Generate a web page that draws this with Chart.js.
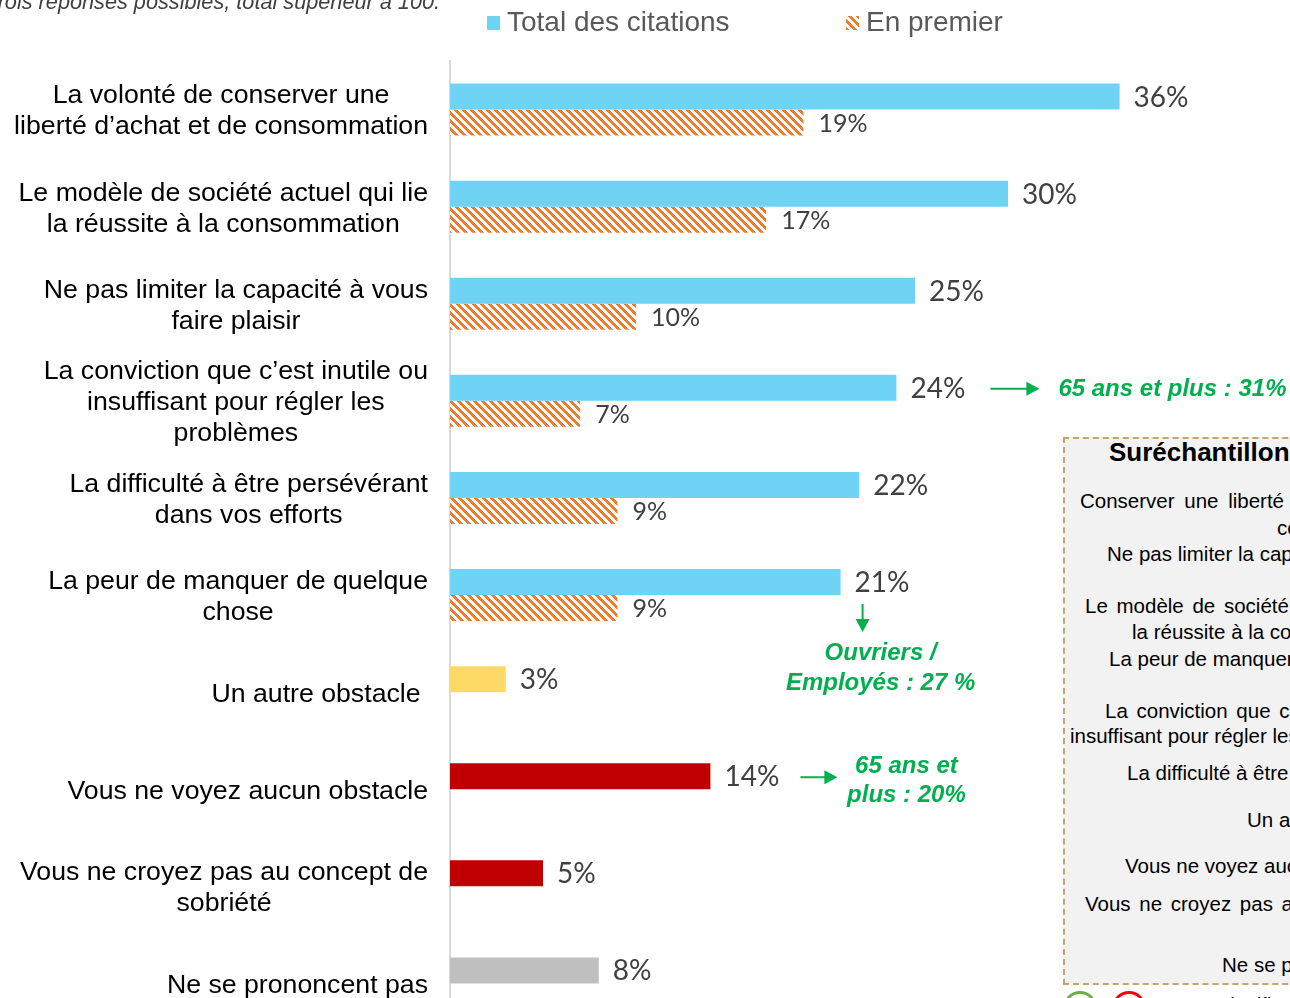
<!DOCTYPE html>
<html>
<head>
<meta charset="utf-8">
<script src="https://cdn.jsdelivr.net/npm/chart.js@4.4.1/dist/chart.umd.min.js"></script>
<style>
  html, body { margin: 0; padding: 0; background: #fff; }
  #wrap { position: relative; width: 1290px; height: 998px; overflow: hidden; font-family: "Liberation Sans", Arial, sans-serif; }
  #chart { position: absolute; left: 0; top: 0; }
  #topnote { position: absolute; left: -14px; top: -9px; font-size: 21.7px; line-height: 21px; font-style: italic; color: #404040; white-space: nowrap; }
  #box { position: absolute; left: 1063px; top: 437px; width: 600px; height: 544px; background: #f2f2f2; border: 2px dashed #c3a570; }
  #box div { position: absolute; white-space: nowrap; font-size: 20.5px; line-height: 24px; color: #000; }
  #box .title { font-weight: bold; font-size: 26px; line-height: 30px; }
  .circle { position: absolute; top: 991px; width: 28px; height: 28px; border-radius: 50%; border: 3px solid; }
  #ecart { position: absolute; left: 1168px; top: 993px; font-size: 20px; line-height: 24px; white-space: nowrap; }
</style>
</head>
<body>
<div id="wrap">
  <canvas id="chart" width="1290" height="1032"></canvas>
  <div id="topnote">Trois réponses possibles, total supérieur à 100.</div>
  <div id="box">
    <div class="title" style="left:44px; top:-2px;">Suréchantillon</div>
    <div style="left:15px; top:50px; word-spacing:4px;">Conserver une liberté d’achat et de</div>
    <div style="left:212px; top:77px;">consommation</div>
    <div style="left:42px; top:103px;">Ne pas limiter la capacité à vous faire plaisir</div>
    <div style="left:20px; top:155px; word-spacing:3px;">Le modèle de société actuel qui lie</div>
    <div style="left:67px; top:181px;">la réussite à la consommation</div>
    <div style="left:44px; top:208px;">La peur de manquer de quelque chose</div>
    <div style="left:40px; top:260px; word-spacing:3px;">La conviction que c’est inutile ou</div>
    <div style="left:5px; top:285px;">insuffisant pour régler les problèmes</div>
    <div style="left:62px; top:322px;">La difficulté à être persévérant</div>
    <div style="left:182px; top:369px;">Un autre obstacle</div>
    <div style="left:60px; top:415px;">Vous ne voyez aucun obstacle</div>
    <div style="left:20px; top:453px; word-spacing:3px;">Vous ne croyez pas au concept de</div>
    <div style="left:157px; top:514px;">Ne se prononcent pas</div>
  </div>
  <div class="circle" style="left:1063px; border-color:#70ad47;"></div>
  <div class="circle" style="left:1112px; border-color:#ff0000;"></div>
  <div id="ecart">Ecart significatif</div>
</div>
<script>
const categories = [
  ['La volonté de conserver une', 'liberté d’achat et de consommation'],
  ['Le modèle de société actuel qui lie', 'la réussite à la consommation'],
  ['Ne pas limiter la capacité à vous', 'faire plaisir'],
  ['La conviction que c’est inutile ou', 'insuffisant pour régler les', 'problèmes'],
  ['La difficulté à être persévérant', 'dans vos efforts'],
  ['La peur de manquer de quelque', 'chose'],
  ['Un autre obstacle '],
  ['Vous ne voyez aucun obstacle'],
  ['Vous ne croyez pas au concept de', 'sobriété'],
  ['Ne se prononcent pas']
];
const totalCitations = [36, 30, 25, 24, 22, 21, 3, 14, 5, 8];
const enPremier = [19, 17, 10, 7, 9, 9, null, null, null, null];
const totalColors = ['#6ed3f4', '#6ed3f4', '#6ed3f4', '#6ed3f4', '#6ed3f4', '#6ed3f4',
  '#ffd966', '#c00000', '#c00000', '#bfbfbf'];

// notes vertes : index de la catégorie + texte
const noteIndex = [3, 5, 7];
const noteText = [['65 ans et plus : 31%'], ['Ouvriers /', 'Employés : 27 %'], ['65 ans et', 'plus : 20%']];

const noteLayout = [
  { dir: 'right', dx: 94, len: 49, tx: 19, align: 'left', ty: [2] },
  { dir: 'down', dx: 22, dy: 22, len: 28, tx: 40, align: 'center', ty: [71, 101] },
  { dir: 'right', dx: 90, len: 37, tx: 69, align: 'center', ty: [-10, 19] }
];

function makeHatch() {
  const c = document.createElement('canvas');
  c.width = 8; c.height = 8;
  const g = c.getContext('2d');
  g.fillStyle = '#fff';
  g.fillRect(0, 0, 8, 8);
  g.fillStyle = '#ed7d31';
  for (let y = 0; y < 8; y++) {
    for (let k = 0; k < 4; k++) g.fillRect((y + k) % 8, y, 1, 1);
  }
  return g.createPattern(c, 'repeat');
}

function arrow(ctx, x1, y1, x2, y2) {
  const a = Math.atan2(y2 - y1, x2 - x1);
  ctx.beginPath();
  ctx.moveTo(x1, y1);
  ctx.lineTo(x2 - 10 * Math.cos(a), y2 - 10 * Math.sin(a));
  ctx.stroke();
  ctx.save();
  ctx.translate(x2, y2);
  ctx.rotate(a);
  ctx.beginPath();
  ctx.moveTo(0, 0);
  ctx.lineTo(-13, -7);
  ctx.lineTo(-13, 7);
  ctx.closePath();
  ctx.fill();
  ctx.restore();
}

const decorPlugin = {
  id: 'decor',
  afterDraw(chart) {
    const ctx = chart.ctx;
    const area = chart.chartArea;
    const yScale = chart.scales.y;
    ctx.save();

    // libellés à gauche
    ctx.font = '26.7px "Liberation Sans"';
    ctx.fillStyle = '#000';
    ctx.textAlign = 'center';
    ctx.textBaseline = 'middle';
    categories.forEach((lines, i) => {
      const y = yScale.getPixelForValue(i) + 2;
      const w = Math.max(...lines.map(l => ctx.measureText(l).width));
      const cx = area.left - 22 - w / 2;
      lines.forEach((l, j) => {
        ctx.fillText(l, cx, y + (j - (lines.length - 1) / 2) * 31);
      });
    });

    // valeurs
    ctx.textAlign = 'left';
    ctx.fillStyle = '#404040';
    chart.data.datasets.forEach((ds, d) => {
      const meta = chart.getDatasetMeta(d);
      ctx.font = d === 0 ? '28px Lato' : '25px Lato';
      meta.data.forEach((el, i) => {
        if (ds.data[i] == null) return;
        ctx.fillText(ds.data[i] + '%', el.x + (d === 0 ? 14 : 15), el.y + 1);
      });
    });

    // légende
    const legendX = [area.left + 37, area.left + 396];
    chart.data.datasets.forEach((ds, d) => {
      const x = legendX[d];
      ctx.fillStyle = Array.isArray(ds.backgroundColor) ? ds.backgroundColor[0] : ds.backgroundColor;
      ctx.fillRect(x, 16, 13, 14);
      ctx.fillStyle = '#595959';
      ctx.font = '28px "Liberation Sans"';
      ctx.fillText(ds.label, x + 20, 23);
    });

    // notes vertes
    const meta0 = chart.getDatasetMeta(0);
    ctx.strokeStyle = '#00b050';
    ctx.fillStyle = '#00b050';
    ctx.lineWidth = 2;
    ctx.font = 'italic bold 24px "Liberation Sans"';
    noteIndex.forEach((idx, n) => {
      const el = meta0.data[idx];
      const L = noteLayout[n];
      ctx.textAlign = L.align;
      if (L.dir === 'right') {
        const x1 = el.x + L.dx, x2 = x1 + L.len;
        arrow(ctx, x1, el.y + 1, x2, el.y + 1);
        noteText[n].forEach((t, j) => ctx.fillText(t, x2 + L.tx, el.y + L.ty[j]));
      } else {
        const x = el.x + L.dx, y1 = el.y + L.dy;
        arrow(ctx, x, y1, x, y1 + L.len);
        noteText[n].forEach((t, j) => ctx.fillText(t, el.x + L.tx, el.y + L.ty[j]));
      }
    });
    ctx.restore();
  }
};

const ctx = document.getElementById('chart').getContext('2d');
new Chart(ctx, {
  type: 'bar',
  data: {
    labels: categories,
    datasets: [
      {
        label: 'Total des citations',
        data: totalCitations,
        backgroundColor: totalColors,
        borderWidth: 0,
        categoryPercentage: 0.536,
        barPercentage: 1
      },
      {
        label: 'En premier',
        data: enPremier,
        backgroundColor: makeHatch(),
        borderWidth: 0,
        categoryPercentage: 0.536,
        barPercentage: 1
      }
    ]
  },
  options: {
    indexAxis: 'y',
    responsive: false,
    animation: false,
    layout: { padding: { left: 450, right: 96, top: 61, bottom: 0 } },
    scales: {
      x: { display: false, min: 0, max: 40 },
      y: {
        grid: { display: false, drawTicks: false },
        ticks: { display: false },
        border: { display: true, color: '#d9d9d9', width: 2 }
      }
    },
    plugins: {
      legend: { display: false },
      tooltip: { enabled: false }
    }
  },
  plugins: [decorPlugin]
});
</script>
</body>
</html>
